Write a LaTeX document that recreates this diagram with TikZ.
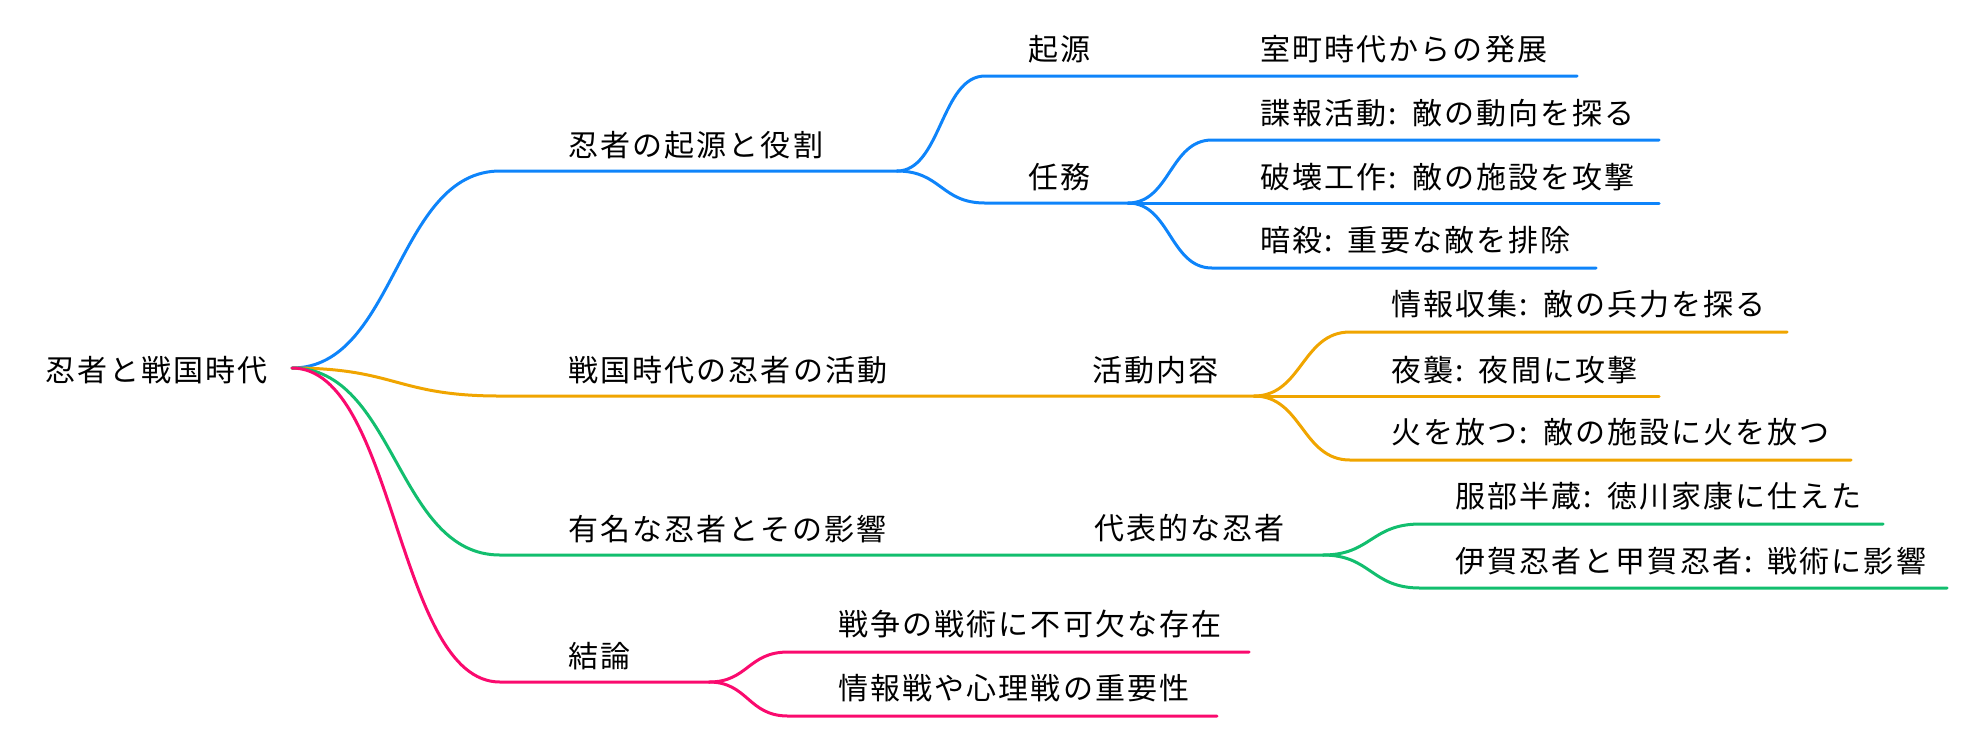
\documentclass[tikz,border=0pt]{standalone}
\usepackage{fontspec}
\newfontfamily\jpfont[LetterSpace=7]{Noto Sans CJK JP}
\newcommand{\colsp}{:\hspace{0.5em}}
\definecolor{cblue}{RGB}{14,132,250}
\definecolor{corange}{RGB}{240,165,0}
\definecolor{cgreen}{RGB}{18,190,110}
\definecolor{cpink}{RGB}{250,10,110}
\tikzset{
  lbl/.style={anchor=base west, inner sep=0pt, font=\jpfont\fontsize{15pt}{18pt}\selectfont},
  br/.style={line width=1.5pt, line cap=round},
}
\begin{document}
\begin{tikzpicture}[x=0.5pt,y=-0.5pt]
\useasboundingbox (0,0) rectangle (1968,736);
% texts
\node[lbl] (root) at (45,381.5) {忍者と戦国時代};
\node[lbl] (a) at (568,156) {忍者の起源と役割};
\node[lbl] (b) at (568,381.5) {戦国時代の忍者の活動};
\node[lbl] (c) at (568,540.5) {有名な忍者とその影響};
\node[lbl] (d) at (568,667.5) {結論};
\node[lbl] (a1) at (1028,60.5) {起源};
\node[lbl] (a2) at (1028,188.5) {任務};
\node[lbl] (a11) at (1260,60.5) {室町時代からの発展};
\node[lbl] (a21) at (1260,124.5) {諜報活動\colsp 敵の動向を探る};
\node[lbl] (a22) at (1260,188.5) {破壊工作\colsp 敵の施設を攻撃};
\node[lbl] (a23) at (1260,251.5) {暗殺\colsp 重要な敵を排除};
\node[lbl] (b1) at (1092,381.5) {活動内容};
\node[lbl] (b11) at (1391,315.5) {情報収集\colsp 敵の兵力を探る};
\node[lbl] (b12) at (1391,381.5) {夜襲\colsp 夜間に攻撃};
\node[lbl] (b13) at (1391,443.5) {火を放つ\colsp 敵の施設に火を放つ};
\node[lbl] (c1) at (1094,539.5) {代表的な忍者};
\node[lbl] (c11) at (1455,507.5) {服部半蔵\colsp 徳川家康に仕えた};
\node[lbl] (c12) at (1455,572.5) {伊賀忍者と甲賀忍者\colsp 戦術に影響};
\node[lbl] (d1) at (838,635.5) {戦争の戦術に不可欠な存在};
\node[lbl] (d2) at (838,699.5) {情報戦や心理戦の重要性};
% junction coordinates
\coordinate (R) at (292,368);
\coordinate (as) at (500,171); \coordinate (ae) at (897,171);
\coordinate (bs) at (500,396); \coordinate (be) at (1254,396);
\coordinate (cs) at (500,555); \coordinate (ce) at (1323,555);
\coordinate (ds) at (500,682); \coordinate (de) at (709,682);
\coordinate (a1s) at (985,76); \coordinate (a1e) at (1200,76); \coordinate (a11e) at (1577,76);
\coordinate (a2s) at (985,203); \coordinate (a2e) at (1128,203);
\coordinate (a21s) at (1212,140); \coordinate (a21e) at (1659,140);
\coordinate (a22s) at (1212,203); \coordinate (a22e) at (1659,203);
\coordinate (a23s) at (1212,268); \coordinate (a23e) at (1596,268);
\coordinate (b11s) at (1350,332); \coordinate (b11e) at (1787,332);
\coordinate (b12s) at (1350,396); \coordinate (b12e) at (1659,396);
\coordinate (b13s) at (1350,460); \coordinate (b13e) at (1851,460);
\coordinate (c11s) at (1420,524); \coordinate (c11e) at (1883,524);
\coordinate (c12s) at (1420,588); \coordinate (c12e) at (1947,588);
\coordinate (d1s) at (788,652); \coordinate (d1e) at (1249,652);
\coordinate (d2s) at (788,716); \coordinate (d2e) at (1217,716);
% blue
\draw[br,cblue] (R) .. controls (396,368) and (396,171) .. (as) -- (ae);
\draw[br,cblue] (ae) .. controls (941,171) and (941,76) .. (a1s) -- (a1e) -- (a11e);
\draw[br,cblue] (ae) .. controls (941,171) and (941,203) .. (a2s) -- (a2e);
\draw[br,cblue] (a2e) .. controls (1170,203) and (1170,140) .. (a21s) -- (a21e);
\draw[br,cblue] (a2e) -- (a22s) -- (a22e);
\draw[br,cblue] (a2e) .. controls (1170,203) and (1170,268) .. (a23s) -- (a23e);
% orange
\draw[br,corange] (R) .. controls (396,368) and (396,396) .. (bs) -- (be);
\draw[br,corange] (be) .. controls (1302,396) and (1302,332) .. (b11s) -- (b11e);
\draw[br,corange] (be) -- (b12s) -- (b12e);
\draw[br,corange] (be) .. controls (1302,396) and (1302,460) .. (b13s) -- (b13e);
% green
\draw[br,cgreen] (R) .. controls (396,368) and (396,555) .. (cs) -- (ce);
\draw[br,cgreen] (ce) .. controls (1371,555) and (1371,524) .. (c11s) -- (c11e);
\draw[br,cgreen] (ce) .. controls (1371,555) and (1371,588) .. (c12s) -- (c12e);
% pink
\draw[br,cpink] (R) .. controls (396,368) and (396,682) .. (ds) -- (de);
\draw[br,cpink] (de) .. controls (748,682) and (748,652) .. (d1s) -- (d1e);
\draw[br,cpink] (de) .. controls (748,682) and (748,716) .. (d2s) -- (d2e);
\end{tikzpicture}
\end{document}
